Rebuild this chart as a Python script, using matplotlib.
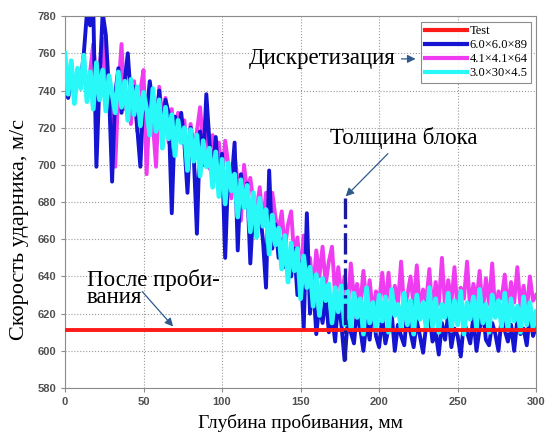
import numpy as np
import matplotlib
matplotlib.use("Agg")
import matplotlib.pyplot as plt

# depth grid, mm (step 2)
depth = np.arange(0, 301, 2)

test_v = 611

blue_v = [742, 736, 745, 739, 750, 744, 760, 782, 775, 785, 699,
          745, 782, 770, 740, 691, 738, 752, 728, 745, 760,
          735, 742, 720, 699, 738, 728, 745, 731, 722, 740,
          718, 735, 728, 674, 726, 715, 728, 712, 685, 720,
          705, 663, 718, 700, 738, 712, 695, 715, 688, 706,
          650, 698, 690, 712, 654, 695, 680, 690, 647, 678,
          668, 675, 660, 634, 697, 655, 668, 650, 660, 645,
          652, 640, 655, 630, 648, 612, 674, 620, 638, 609,
          625, 615, 630, 610, 620, 605, 628, 614, 595, 616,
          610, 604, 622, 612, 600, 616, 606, 625, 608, 602,
          618, 604, 612, 620, 600, 614, 608, 603, 622, 610,
          602, 616, 608, 599, 614, 620, 605, 610, 598, 615,
          606, 620, 602, 612, 608, 597, 616, 610, 604, 618,
          600, 612, 622, 606, 603, 615, 609, 600, 618, 611,
          605, 614, 600, 617, 609, 612, 603, 620, 608, 613]

magenta_v = [748, 740, 755, 735, 750, 745, 758, 738, 750, 765, 744,
             752, 768, 735, 748, 725, 699, 740, 765, 730, 738,
             722, 745, 718, 740, 751, 695, 735, 722, 699, 742,
             725, 736, 712, 730, 705, 728, 715, 724, 700, 722,
             708, 718, 731, 712, 720, 698, 716, 704, 712, 692,
             713, 700, 682, 706, 690, 670, 700, 685, 693, 680,
             676, 688, 668, 685, 660, 685, 672, 664, 675, 655,
             668, 675, 650, 661, 640, 662, 647, 650, 632, 654,
             640, 656, 636, 648, 656, 630, 645, 628, 640, 622,
             647, 628, 636, 624, 643, 625, 638, 620, 632, 626,
             642, 623, 642, 620, 635, 625, 648, 622, 630, 640,
             624, 646, 621, 633, 627, 644, 620, 637, 625, 650,
             623, 638, 626, 645, 620, 634, 628, 648, 622, 636,
             627, 643, 621, 639, 625, 647, 620, 632, 628, 641,
             622, 637, 626, 645, 624, 635, 621, 640, 627, 630]

cyan_v = [760, 738, 756, 733, 752, 741, 759, 734, 750, 730, 755,
          735, 751, 729, 748, 738, 728, 750, 731, 745, 724,
          746, 727, 742, 721, 739, 730, 716, 741, 718, 735,
          709, 731, 714, 727, 705, 724, 712, 720, 697, 719,
          702, 716, 694, 713, 699, 709, 688, 707, 683, 703,
          679, 701, 686, 695, 672, 692, 677, 689, 664, 685,
          661, 682, 667, 676, 652, 673, 657, 666, 644, 662,
          637, 658, 643, 655, 628, 651, 634, 645, 624, 641,
          619, 639, 627, 636, 615, 634, 621, 635, 614, 632,
          612, 631, 618, 628, 609, 634, 615, 626, 611, 630,
          616, 629, 610, 633, 619, 625, 612, 631, 614, 627,
          609, 630, 617, 626, 612, 634, 613, 628, 610, 625,
          618, 631, 611, 627, 614, 632, 609, 626, 617, 629,
          612, 633, 615, 625, 610, 630, 618, 627, 613, 631,
          611, 628, 616, 624, 610, 629, 614, 626, 612, 621]

labels = ["Test", "6.0×6.0×89", "4.1×4.1×64", "3.0×30×4.5"]
block_x = 178
block_y = (595, 682)

serif = "Liberation Serif"
sans = "Liberation Sans"

fig = plt.figure(figsize=(5.46, 4.36), dpi=100)
ax = fig.add_axes([0.119, 0.110, 0.863, 0.853])

l_blue, = ax.plot(depth, blue_v, color="#1414d2", lw=2.8, zorder=2)
l_mag, = ax.plot(depth, magenta_v, color="#f03cf0", lw=2.8, zorder=1)
l_cyan, = ax.plot(depth, cyan_v, color="#28f8f8", lw=3.4, zorder=3)
l_red, = ax.plot([0, 300], [test_v, test_v], color="#ff1a1a", lw=2.8, zorder=4)
ax.plot([block_x, block_x], block_y, color="#1a1aa0", lw=2.4, ls="-.", zorder=5)

ax.set_xlim(0, 300)
ax.set_ylim(580, 780)
ax.set_xticks(np.arange(0, 301, 50))
ax.set_yticks(np.arange(580, 781, 20))
ax.grid(True, ls=":", color="#9a9a9a", lw=0.8)
ax.set_axisbelow(True)
for s in ax.spines.values():
    s.set_color("#8c8c8c")
ax.tick_params(colors="#8c8c8c", length=3, labelcolor="#505050", labelsize=8)
for t in ax.get_xticklabels() + ax.get_yticklabels():
    t.set_family(sans)
    t.set_fontweight("bold")

ax.set_xlabel("Глубина пробивания, мм", family=serif, fontsize=14, labelpad=5)
ax.set_ylabel("Скорость ударника, м/с", family=serif, fontsize=16)
ax.yaxis.set_label_coords(-0.076, 0.425)

leg = ax.legend([l_red, l_blue, l_mag, l_cyan], labels, loc="upper right",
                bbox_to_anchor=(0.99, 0.985), borderaxespad=0, fancybox=False,
                prop={"family": serif, "size": 9}, handlelength=3.4,
                labelspacing=0.15, borderpad=0.3, handletextpad=0.2)
leg.get_frame().set_edgecolor("#707070")
leg.get_frame().set_linewidth(0.8)
for h in leg.get_lines():
    h.set_linewidth(3)

arr = dict(arrowstyle="-|>", color="#2f5a8c", lw=0.9, mutation_scale=12)
ax.annotate("Дискретизация", xy=(225, 757), xytext=(164, 757),
            ha="center", va="center", family=serif, fontsize=16.5,
            arrowprops=arr, zorder=6)
ax.annotate("Толщина блока", xy=(177.5, 682), xytext=(215.5, 714.5),
            ha="center", va="center", family=serif, fontsize=16.5,
            arrowprops=arr, zorder=6)
ax.text(14, 633.5, "После проби-\nвания", family=serif, fontsize=16.5,
        ha="left", va="center", linespacing=0.8, zorder=6)
ax.annotate("", xy=(70, 612), xytext=(48, 633), arrowprops=arr, zorder=6)

fig.savefig("out.png", dpi=100)
